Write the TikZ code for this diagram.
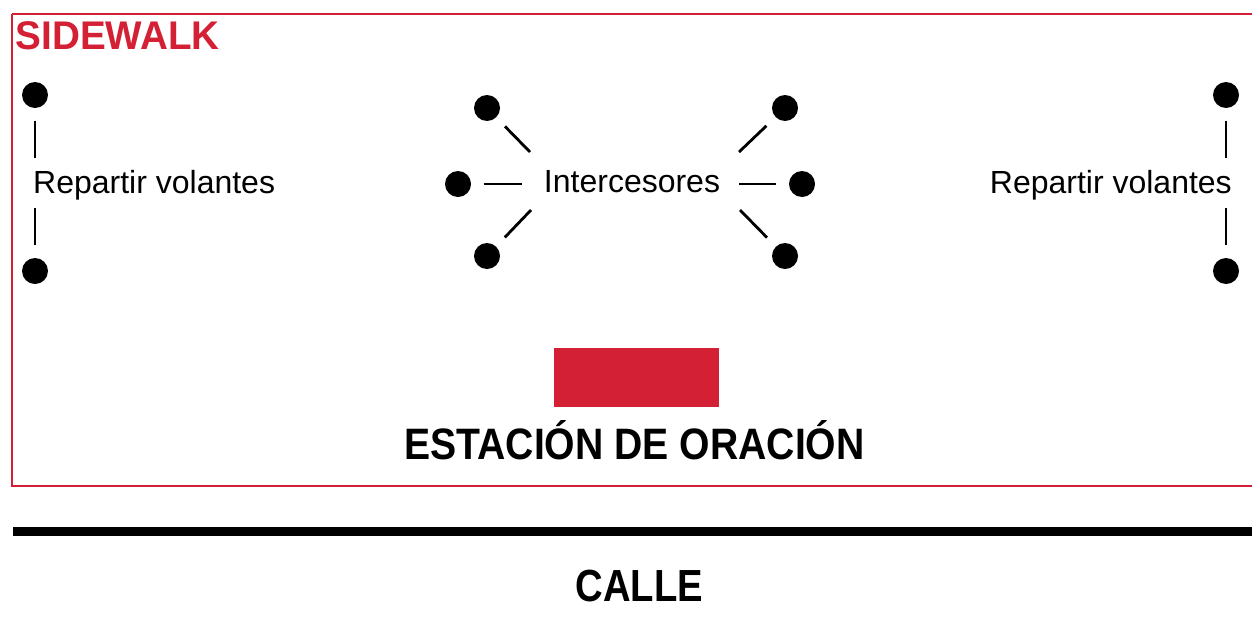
\documentclass[tikz,border=0pt]{standalone}
\usepackage{fontspec}
\setmainfont{Liberation Sans}
\definecolor{sred}{RGB}{212,32,52}
\begin{document}
\begin{tikzpicture}[x=1pt,y=-1pt,
  dot/.style={circle,fill=black,inner sep=0pt,minimum size=26pt},
  conn/.style={line width=2.8pt,shorten <=12.5pt},
  lbl/.style={inner sep=0pt,font=\fontsize{32}{38}\selectfont},
  ttl/.style={inner sep=0pt,font=\fontsize{44}{52}\selectfont\bfseries}]
\useasboundingbox (0,0) rectangle (1252,624);
% sidewalk frame
\draw[sred,line width=2.4pt] (12,14) -- (1262,14) (12,14) -- (12,486) -- (1262,486);
\node[inner sep=0pt,anchor=base west,text=sred,font=\fontsize{40}{48}\selectfont\bfseries] (sw) at (15.5,49) {\scalebox{0.966}[1]{SIDEWALK}};
% left group
\node[dot] (l1) at (35,95) {};
\node[dot] (l2) at (35,271) {};
\node[lbl,anchor=base west] (lt) at (33,193) {Repartir volantes};
\coordinate (l1e) at (35,158);
\coordinate (l2e) at (35,208);
\draw[conn] (l1) -- (l1e);
\draw[conn] (l2) -- (l2e);
% right group
\node[dot] (r1) at (1226,95) {};
\node[dot] (r2) at (1226,271) {};
\node[lbl,anchor=base east] (rt) at (1232,193) {Repartir volantes};
\coordinate (r1e) at (1226,158);
\coordinate (r2e) at (1226,208);
\draw[conn] (r1) -- (r1e);
\draw[conn] (r2) -- (r2e);
% intercesores
\node[lbl,anchor=base] (ic) at (632,192.5) {Intercesores};
\node[dot] (a1) at (487,108) {};
\node[dot] (a2) at (458,184) {};
\node[dot] (a3) at (487,256) {};
\node[dot] (b1) at (785,108) {};
\node[dot] (b2) at (802,184) {};
\node[dot] (b3) at (785,256) {};
\coordinate (a1e) at (530,152);
\coordinate (a2e) at (522,184);
\coordinate (a3e) at (531,210);
\coordinate (b1e) at (739,152);
\coordinate (b2e) at (739,184);
\coordinate (b3e) at (740,210);
\draw[conn] (a1) -- (a1e);
\draw[conn] (a2) -- (a2e);
\draw[conn] (a3) -- (a3e);
\draw[conn] (b1) -- (b1e);
\draw[conn] (b2) -- (b2e);
\draw[conn] (b3) -- (b3e);
% prayer station
\node[fill=sred,inner sep=0pt,minimum width=165pt,minimum height=59pt] (st) at (636.5,377.5) {};
\node[ttl,anchor=base,font=\fontsize{44}{52}\selectfont\bfseries] (stl) at (634.5,459.5) {\scalebox{0.89}[1]{ESTACIÓN DE ORACIÓN}};
% street
\draw[line width=8.3pt] (13,531.5) -- (1262,531.5);
\node[ttl,anchor=base,font=\fontsize{45}{52}\selectfont\bfseries] (calle) at (639.5,601.5) {\scalebox{0.85}[1]{CALLE}};
\end{tikzpicture}
\end{document}
